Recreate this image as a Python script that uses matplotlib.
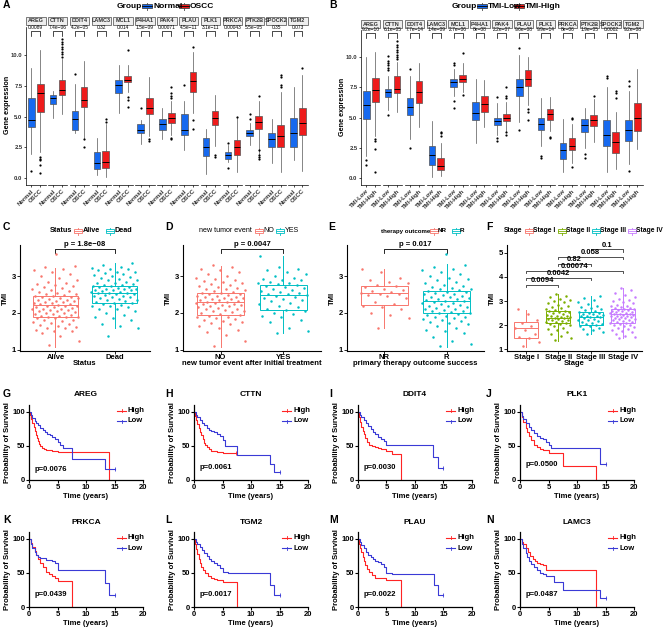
import numpy as np
import matplotlib
matplotlib.use('Agg')
import matplotlib.pyplot as plt
from matplotlib.patches import Rectangle
from matplotlib.lines import Line2D

plt.rcParams['font.family'] = ['Liberation Sans', 'DejaVu Sans']
plt.rcParams['font.weight'] = 'bold'
plt.rcParams['axes.labelweight'] = 'bold'

# ---------------- data ----------------
genes = ['AREG', 'CTTN', 'DDIT4', 'LAMC3', 'MCL1', 'P4HA1', 'PAK4', 'PLAU',
         'PLK1', 'PRKCA', 'PTK2B', 'SPOCK2', 'TGM2']

# box stats: (whislo, q1, median, q3, whishi)
a_normal = [(2.0, 4.2, 4.75, 6.5, 9.0), (4.9, 6.0, 6.55, 6.75, 7.1), (3.7, 3.9, 4.8, 5.5, 7.7),
            (0.3, 0.75, 1.2, 2.15, 3.3), (5.3, 6.9, 7.6, 8.0, 9.2), (2.8, 3.7, 3.9, 4.4, 4.7),
            (3.2, 3.9, 4.4, 4.8, 5.7), (2.3, 3.5, 3.9, 5.2, 6.3), (0.35, 1.8, 2.5, 3.3, 4.0),
            (1.3, 1.6, 1.9, 2.1, 2.7), (2.7, 3.4, 3.7, 3.9, 4.5), (1.2, 2.5, 3.2, 3.7, 4.8),
            (1.5, 2.5, 3.7, 4.9, 7.4)]
a_normal_out = [[0.6], [], [8.5], [], [], [5.7], [], [7.6], [], [2.9, 0.8], [4.8, 5.2], [], []]
a_oscc = [(2.1, 5.4, 6.9, 7.7, 10.4), (5.2, 6.8, 7.2, 8.0, 9.7), (3.3, 5.8, 6.4, 7.4, 9.5),
          (0.1, 0.85, 1.35, 2.25, 4.4), (7.0, 7.8, 8.0, 8.3, 9.2), (3.4, 5.2, 5.7, 6.5, 8.2),
          (3.5, 4.5, 4.9, 5.3, 6.3), (5.3, 7.0, 7.9, 8.6, 10.3), (2.6, 4.3, 4.9, 5.5, 6.8),
          (0.5, 1.9, 2.5, 3.1, 4.9), (2.0, 4.0, 4.6, 5.1, 6.3), (0.5, 2.5, 3.4, 4.3, 7.0),
          (0.6, 3.5, 4.5, 5.7, 8.4)]
a_oscc_out = [[1.7, 1.5, 1.1, 0.4, 1.6], [9.9, 10.1, 10.3, 10.5, 10.7, 10.9, 11.1, 11.3],
              [3.2, 2.5], [4.6, 4.8], [10.4, 6.6, 6.4, 5.8], [3.2, 3.0],
              [6.5, 6.7, 6.9, 7.4, 3.2, 3.3], [10.7, 4.7, 4.0], [1.9, 1.7], [5.0],
              [6.7, 2.3, 1.9, 1.7, 1.6], [8.2, 8.4, 7.4, 7.6], [9.0]]
a_pvals = ['0.0089', '7.4e\u221206', '4.2e\u221205', '0.32', '0.014', '1.5e\u221209', '0.00071',
           '4.5e\u221211', '3.1e\u221211', '0.00043', '5.5e\u221205', '0.35', '0.073']

b_low = [(1.8, 4.9, 6.0, 7.2, 10.0), (5.6, 6.7, 7.1, 7.4, 8.4), (3.2, 5.2, 5.9, 6.6, 8.4),
         (0.1, 1.1, 1.95, 2.7, 4.7), (6.8, 7.5, 7.9, 8.2, 9.0), (2.9, 4.8, 5.4, 6.3, 8.2),
         (3.6, 4.4, 4.7, 5.0, 6.2), (4.6, 6.8, 7.5, 8.2, 10.2), (2.7, 4.0, 4.5, 5.0, 6.6),
         (0.5, 1.6, 2.3, 2.9, 4.9), (2.5, 3.8, 4.4, 4.9, 5.8), (0.5, 2.7, 3.6, 4.8, 7.5),
         (1.2, 3.1, 4.0, 4.8, 7.2)]
b_low_out = [[1.5, 1.1], [8.9, 9.1, 9.3, 9.5, 9.7, 10.1, 5.2], [9.0, 2.5], [],
             [9.3, 9.5, 6.4, 5.8], [], [6.7, 3.1, 3.3], [10.7, 4.0], [1.8, 1.7], [],
             [2.0, 1.7], [8.3, 8.4], [0.6, 7.6, 8.0]]
b_high = [(3.5, 6.3, 7.3, 8.3, 10.4), (5.5, 7.0, 7.4, 8.4, 9.6), (4.2, 6.2, 7.1, 8.0, 9.5),
          (0.2, 0.7, 1.05, 1.7, 2.9), (7.1, 7.9, 8.2, 8.5, 9.5), (4.2, 5.5, 6.1, 6.8, 8.1),
          (3.9, 4.7, 5.0, 5.3, 6.3), (6.0, 7.6, 8.2, 8.9, 10.0), (3.9, 4.8, 5.3, 5.7, 6.7),
          (1.3, 2.3, 2.7, 3.3, 4.5), (3.0, 4.3, 4.8, 5.2, 6.5), (0.8, 2.1, 3.0, 3.8, 5.5),
          (2.4, 3.9, 5.0, 6.2, 9.0)]
b_high_out = [[3.2, 3.1, 2.4, 0.5], [9.8, 10.0, 10.2, 10.4, 10.6, 10.8, 11.0, 11.3], [],
              [3.5, 3.7, 3.8], [10.3, 6.9], [], [6.6, 6.8, 7.5, 3.6, 3.8], [5.7, 5.5, 4.8],
              [3.3, 3.4], [4.9, 5.0, 0.9], [6.8], [6.6, 7.0, 7.2], []]
b_pvals = ['9.2e\u221210', '6.1e\u221205', '7.7e\u221214', '1.4e\u221209', '2.7e\u221206', '8e\u221208',
           '2.2e\u221207', '9.6e\u221208', '9.9e\u221214', '8e\u221206', '1.9e\u221205', '0.0002',
           '9.2e\u221208']

# TMI panels: box stats and points
c_groups = ['Alive', 'Dead']
c_stats = [(1.09, 1.88, 2.22, 2.46, 3.23), (1.59, 2.27, 2.54, 2.74, 3.34)]
c_alive = [1.12, 1.25, 1.38, 1.45, 1.5, 1.52, 1.55, 1.58, 1.6, 1.62, 1.65, 1.68, 1.7, 1.72, 1.75,
           1.78, 1.8, 1.82, 1.85, 1.87, 1.88, 1.9, 1.9, 1.92, 1.93, 1.95, 1.96, 1.98, 2.0, 2.0,
           2.02, 2.04, 2.05, 2.07, 2.08, 2.1, 2.1, 2.12, 2.14, 2.15, 2.17, 2.18, 2.2, 2.2, 2.22,
           2.23, 2.25, 2.26, 2.28, 2.3, 2.3, 2.32, 2.33, 2.35, 2.36, 2.38, 2.4, 2.4, 2.42, 2.43,
           2.45, 2.46, 2.48, 2.5, 2.52, 2.55, 2.58, 2.6, 2.62, 2.65, 2.68, 2.7, 2.72, 2.75, 2.78,
           2.8, 2.85, 2.9, 2.95, 3.0, 3.05, 3.1, 3.15, 3.2, 3.25, 3.28, 3.6]
c_dead = [1.37, 1.6, 1.65, 1.7, 1.8, 1.85, 1.9, 1.95, 2.0, 2.05, 2.1, 2.12, 2.15, 2.18, 2.2,
          2.22, 2.25, 2.27, 2.28, 2.3, 2.32, 2.34, 2.36, 2.38, 2.4, 2.42, 2.44, 2.45, 2.47, 2.48,
          2.5, 2.52, 2.53, 2.54, 2.55, 2.56, 2.58, 2.6, 2.61, 2.62, 2.63, 2.64, 2.65, 2.66, 2.68,
          2.7, 2.71, 2.72, 2.74, 2.75, 2.77, 2.78, 2.8, 2.82, 2.85, 2.88, 2.9, 2.92, 2.95, 2.98,
          3.0, 3.02, 3.05, 3.08, 3.1, 3.12, 3.15, 3.18, 3.2, 3.22, 3.25, 3.3, 3.35]

d_groups = ['NO', 'YES']
d_stats = [(1.09, 1.95, 2.30, 2.53, 3.27), (1.45, 2.08, 2.48, 2.77, 3.54)]
d_no = [1.1, 1.25, 1.4, 1.48, 1.55, 1.6, 1.65, 1.7, 1.72, 1.75, 1.78, 1.8, 1.83, 1.85, 1.88, 1.9,
        1.93, 1.95, 1.97, 2.0, 2.02, 2.04, 2.06, 2.08, 2.1, 2.12, 2.14, 2.16, 2.18, 2.2, 2.21,
        2.22, 2.24, 2.25, 2.27, 2.28, 2.3, 2.31, 2.32, 2.34, 2.35, 2.37, 2.38, 2.4, 2.41, 2.42,
        2.44, 2.45, 2.47, 2.48, 2.5, 2.51, 2.53, 2.55, 2.57, 2.6, 2.62, 2.64, 2.66, 2.68, 2.7,
        2.72, 2.75, 2.78, 2.8, 2.83, 2.86, 2.9, 2.93, 2.96, 3.0, 3.05, 3.1, 3.15, 3.2, 3.25, 3.3]
d_yes = [1.45, 1.52, 1.6, 1.75, 1.82, 1.88, 1.92, 1.96, 2.0, 2.05, 2.08, 2.12, 2.15, 2.2, 2.25,
         2.28, 2.32, 2.35, 2.38, 2.4, 2.43, 2.46, 2.48, 2.5, 2.52, 2.55, 2.58, 2.6, 2.62, 2.65,
         2.68, 2.7, 2.72, 2.75, 2.78, 2.8, 2.82, 2.85, 2.88, 2.9, 2.93, 2.96, 3.0, 3.05, 3.1,
         3.15, 3.2, 3.25, 3.55]

e_groups = ['NR', 'R']
e_stats = [(1.58, 2.21, 2.54, 2.74, 3.2), (1.09, 2.0, 2.33, 2.59, 3.32)]
e_nr = [1.6, 1.85, 1.95, 2.0, 2.1, 2.15, 2.2, 2.25, 2.3, 2.4, 2.45, 2.48, 2.5, 2.52, 2.55,
        2.58, 2.6, 2.62, 2.65, 2.7, 2.72, 2.75, 2.8, 2.85, 2.9, 2.95, 3.1, 3.2]
e_r = [1.1, 1.15, 1.25, 1.35, 1.45, 1.5, 1.55, 1.6, 1.65, 1.7, 1.72, 1.75, 1.78, 1.8, 1.83,
       1.86, 1.88, 1.9, 1.92, 1.95, 1.97, 2.0, 2.0, 2.02, 2.04, 2.06, 2.08, 2.1, 2.12, 2.14,
       2.16, 2.18, 2.2, 2.22, 2.24, 2.26, 2.28, 2.3, 2.32, 2.33, 2.35, 2.37, 2.39, 2.4, 2.42,
       2.44, 2.46, 2.48, 2.5, 2.52, 2.54, 2.56, 2.58, 2.6, 2.62, 2.64, 2.66, 2.68, 2.7, 2.73,
       2.76, 2.8, 2.84, 2.88, 2.92, 2.96, 3.0, 3.05, 3.1, 3.15, 3.2, 3.25, 3.3, 3.6]

f_groups = ['Stage I', 'Stage II', 'Stage III', 'Stage IV']
f_stats = [(1.1, 1.48, 1.87, 2.15, 2.63), (1.36, 2.08, 2.28, 2.59, 3.29),
           (1.62, 2.01, 2.32, 2.56, 3.22), (1.46, 2.1, 2.46, 2.66, 3.55)]
f_s1 = [1.15, 1.3, 1.48, 1.52, 1.62, 1.78, 1.88, 1.95, 2.1, 2.2, 2.45, 2.65]
f_s2 = [1.38, 1.45, 1.55, 1.62, 1.7, 1.78, 1.85, 1.9, 1.95, 2.0, 2.03, 2.06, 2.1, 2.12, 2.15,
        2.18, 2.2, 2.22, 2.25, 2.27, 2.28, 2.3, 2.32, 2.34, 2.36, 2.38, 2.4, 2.43, 2.46, 2.5,
        2.53, 2.56, 2.58, 2.6, 2.62, 2.65, 2.7, 2.75, 2.8, 2.85, 2.9, 2.95, 3.0, 3.05, 3.1,
        3.15, 3.22, 3.3]
f_s3 = [1.65, 1.72, 1.8, 1.85, 1.9, 1.95, 1.98, 2.0, 2.03, 2.06, 2.1, 2.13, 2.16, 2.2, 2.23,
        2.26, 2.29, 2.32, 2.34, 2.36, 2.38, 2.4, 2.42, 2.45, 2.48, 2.5, 2.52, 2.55, 2.58, 2.62,
        2.66, 2.7, 2.75, 2.8, 2.88, 2.95, 3.05, 3.12, 3.22]
f_s4 = [1.45, 1.5, 1.55, 1.62, 1.7, 1.75, 1.8, 1.85, 1.9, 1.93, 1.96, 2.0, 2.02, 2.05, 2.08,
        2.1, 2.12, 2.15, 2.17, 2.2, 2.22, 2.24, 2.26, 2.28, 2.3, 2.32, 2.34, 2.36, 2.38, 2.4,
        2.42, 2.44, 2.46, 2.47, 2.48, 2.5, 2.52, 2.54, 2.56, 2.58, 2.6, 2.62, 2.64, 2.66, 2.68,
        2.7, 2.72, 2.75, 2.78, 2.8, 2.85, 2.9, 2.95, 3.0, 3.05, 3.1, 3.18, 3.25, 3.35, 3.45, 3.55]
# pairwise comparisons in F: (group a, group b, height, label)
f_pairs = [(1, 2, 3.66, '0.0094'), (1, 3, 3.97, '0.0042'), (1, 4, 4.24, '0.00074'),
           (2, 3, 4.53, '0.82'), (2, 4, 4.83, '0.058'), (3, 4, 5.14, '0.1')]

# survival curves (time in years, % survival)
km_titles = ['AREG', 'CTTN', 'DDIT4', 'PLK1', 'PRKCA', 'TGM2', 'PLAU', 'LAMC3']
km_p = ['p=0.0076', 'p=0.0061', 'p=0.0030', 'p=0.0500', 'p=0.0439', 'p=0.0017', 'p=0.0022', 'p=0.0487']
km_p_y = [16, 19, 19, 22, 18, 19, 18, 19]
km_high_t = [[0, 0.2, 0.4, 0.6, 0.8, 1.0, 1.2, 1.4, 1.6, 1.8, 2.0, 2.3, 2.6, 3.0, 3.5, 4.0, 4.5, 5.0, 14.0],
             [0, 0.2, 0.4, 0.6, 0.8, 1.0, 1.2, 1.5, 1.8, 2.0, 2.3, 2.6, 3.0, 3.5, 4.0, 5.0, 7.3],
             [0, 0.2, 0.4, 0.6, 0.8, 1.0, 1.3, 1.6, 2.0, 2.5, 3.0, 3.5, 4.0, 5.0, 6.0, 7.5],
             [0, 0.3, 0.6, 1.0, 1.3, 1.6, 2.0, 2.5, 3.0, 3.5, 4.0, 5.0, 7.5, 13.3],
             [0, 0.3, 0.6, 1.0, 1.3, 1.6, 2.0, 2.5, 3.0, 3.5, 4.0, 4.5, 5.0, 7.5],
             [0, 0.2, 0.4, 0.6, 0.8, 1.0, 1.3, 1.6, 2.0, 2.5, 3.0, 3.5, 4.0, 5.0, 7.5],
             [0, 0.2, 0.4, 0.6, 0.8, 1.0, 1.3, 1.6, 2.0, 2.5, 3.0, 4.0, 5.0, 7.5],
             [0, 0.3, 0.6, 1.0, 1.4, 1.8, 2.2, 2.6, 3.0, 3.5, 4.0, 4.5, 13.3]]
km_high_s = [[100, 95, 90, 84, 78, 72, 66, 61, 57, 53, 50, 47, 45, 44, 44, 43, 42, 41, 0],
             [100, 94, 88, 82, 76, 71, 66, 60, 55, 52, 48, 45, 43, 42, 41, 40, 40],
             [100, 92, 85, 78, 72, 67, 61, 56, 52, 50, 48, 47, 45, 42, 38, 0],
             [100, 93, 85, 77, 70, 64, 58, 52, 48, 46, 44, 40, 20, 0],
             [100, 94, 88, 82, 76, 70, 64, 58, 52, 48, 46, 42, 38, 0],
             [100, 93, 85, 78, 71, 65, 59, 54, 50, 46, 43, 41, 40, 37, 0],
             [100, 93, 86, 80, 74, 68, 61, 56, 52, 47, 43, 42, 40, 0],
             [100, 96, 92, 86, 80, 75, 71, 68, 65, 63, 61, 55, 0]]
km_low_t = [[0, 0.3, 0.6, 1.0, 1.3, 1.6, 2.0, 2.4, 2.8, 3.2, 3.6, 4.0, 4.5, 5.0, 5.5, 6.0, 7.5, 13.4, 15.0],
            [0, 0.3, 0.6, 1.0, 1.4, 1.8, 2.2, 2.6, 3.0, 3.5, 4.0, 4.5, 5.0, 5.5, 7.5, 13.3, 14.1, 15.0],
            [0, 0.3, 0.6, 1.0, 1.4, 1.8, 2.2, 2.6, 3.0, 3.5, 4.0, 4.5, 5.0, 13.2, 14.1, 15.0],
            [0, 0.3, 0.6, 1.0, 1.5, 2.0, 2.5, 3.0, 3.5, 4.0, 4.5, 5.0, 5.5, 14.1, 15.0],
            [0, 0.3, 0.6, 1.0, 1.3, 1.6, 2.0, 3.0, 4.0, 4.5, 5.0, 13.3, 14.1, 15.0],
            [0, 0.3, 0.6, 1.0, 1.4, 1.8, 2.2, 2.6, 3.0, 3.5, 4.0, 4.5, 5.0, 6.0, 13.3, 14.1, 15.0],
            [0, 0.3, 0.6, 1.0, 1.4, 1.8, 2.2, 2.6, 3.0, 3.5, 4.0, 4.5, 5.0, 6.0, 13.3, 14.1, 15.0],
            [0, 0.3, 0.6, 1.0, 1.3, 1.6, 2.0, 2.5, 3.0, 3.5, 4.0, 4.5, 5.0, 6.0, 7.5, 14.1, 15.0]]
km_low_s = [[100, 95, 91, 87, 83, 80, 77, 74, 71, 68, 66, 63, 60, 56, 52, 47, 31, 16, 16],
            [100, 96, 92, 88, 84, 80, 77, 74, 72, 70, 68, 65, 58, 50, 36, 23, 12, 12],
            [100, 96, 92, 88, 84, 79, 75, 71, 67, 63, 60, 57, 52, 34, 17, 17],
            [100, 94, 89, 84, 78, 73, 69, 65, 62, 60, 56, 52, 47, 23, 23],
            [100, 93, 86, 80, 76, 74, 72, 69, 67, 64, 54, 35, 17, 17],
            [100, 96, 92, 88, 83, 79, 75, 71, 68, 64, 61, 57, 52, 50, 33, 17, 17],
            [100, 95, 91, 86, 81, 77, 74, 71, 68, 66, 63, 58, 50, 48, 32, 17, 17],
            [100, 93, 86, 79, 73, 68, 63, 58, 54, 50, 48, 46, 45, 37, 25, 13, 13]]

# ---------------- figure ----------------
W, H = 669, 630
fig = plt.figure(figsize=(W / 100, H / 100), dpi=100)

BLUE = '#1669ef'
RED = '#ee1b1b'
HUE2 = ['#F8766D', '#00BFC4']
HUE4 = ['#F8766D', '#7CAE00', '#00BFC4', '#C77CFF']
KM_RED = '#ff2424'
KM_BLUE = '#3a3ad6'


def add_ax(x, y, w, h):
    return fig.add_axes([x / W, 1 - (y + h) / H, w / W, h / H])


def ftext(x, y, s, **kw):
    kw.setdefault('fontweight', 'bold')
    fig.text(x / W, 1 - y / H, s, **kw)


def key(x, y, color, fill=None, w=8, h=7):
    # small boxplot legend glyph, pixel coords (x left, y center)
    fc = fill if fill else 'white'
    ec = '#444444' if fill else color
    fig.add_artist(Rectangle((x / W, 1 - (y + h * 0.3) / H), w / W, h * 0.6 / H,
                             transform=fig.transFigure, fc=fc, ec=ec, lw=0.6))
    mc = 'black' if fill else color
    fig.add_artist(Line2D([x / W, (x + w) / W], [1 - y / H, 1 - y / H],
                          transform=fig.transFigure, color=mc, lw=0.6))
    for y0, y1 in [(y - h / 2, y - h * 0.3), (y + h * 0.3, y + h / 2)]:
        fig.add_artist(Line2D([(x + w / 2) / W] * 2, [1 - y0 / H, 1 - y1 / H],
                              transform=fig.transFigure, color=ec, lw=0.6))


def facet_panel(x0, top, normal, normal_out, tumor, tumor_out, pvals, xlabels, ylim):
    h = 185 - top
    for i, g in enumerate(genes):
        ax = add_ax(x0 + i * 21.85, top, 19.5, h)
        st = []
        for s, fl in [(normal[i], normal_out[i]), (tumor[i], tumor_out[i])]:
            st.append(dict(whislo=s[0], q1=s[1], med=s[2], q3=s[3], whishi=s[4], fliers=fl))
        bp = ax.bxp(st, positions=[1, 2], widths=0.75, patch_artist=True, showcaps=False,
                    boxprops=dict(edgecolor='#555555', linewidth=0.5),
                    whiskerprops=dict(color='#555555', linewidth=0.5),
                    medianprops=dict(color='black', linewidth=0.7),
                    flierprops=dict(marker='o', markersize=1.6, markerfacecolor='black',
                                    markeredgecolor='none'))
        bp['boxes'][0].set_facecolor(BLUE)
        bp['boxes'][1].set_facecolor(RED)
        ax.set_xlim(0.4, 2.6)
        ax.set_ylim(*ylim)
        for sp in ['top', 'right']:
            ax.spines[sp].set_visible(False)
        ax.spines['bottom'].set_linewidth(0.5)
        ax.spines['left'].set_linewidth(0.5)
        ax.patch.set_alpha(0)
        ax.set_xticks([1, 2])
        ax.set_xticklabels(xlabels, rotation=45, ha='right', rotation_mode='anchor',
                           fontsize=4.2, color='#333333')
        ax.tick_params(axis='both', length=1.5, width=0.5, pad=1)
        if i == 0:
            ax.set_yticks([0, 2.5, 5, 7.5, 10])
            ax.set_yticklabels(['0.0', '2.5', '5.0', '7.5', '10.0'], fontsize=4.2, color='#333333')
        else:
            ax.spines['left'].set_visible(False)
            ax.set_yticks([])
        # strip
        ax.add_patch(Rectangle((0, 1 + 2 / h), 1, 8 / h, transform=ax.transAxes, clip_on=False,
                               fc='#eeeeee', ec='#666666', lw=0.6))
        ax.text(0.5, 1 + 6 / h, g, transform=ax.transAxes, ha='center', va='center',
                fontsize=4.0, color='#333333')
        # bracket
        ax.plot([1, 1, 2, 2], [11.6, 11.95, 11.95, 11.6], color='black', lw=0.5, clip_on=False)
        ax.text(1.5, 12.02, pvals[i], ha='center', va='bottom', fontsize=3.5, fontweight='normal',
                clip_on=False)


def jitter(n):
    return ((np.arange(n) * 0.6180339887 + 0.37) % 1 - 0.5) * 0.8


def tmi_panel(x, w, groups, stats, values, colors, ylim, yticks, xlabel):
    ax = add_ax(x, 245, w, 106)
    n = len(groups)
    st = [dict(whislo=s[0], q1=s[1], med=s[2], q3=s[3], whishi=s[4], fliers=[]) for s in stats]
    bp = ax.bxp(st, positions=range(1, n + 1), widths=0.75, patch_artist=True, showcaps=False)
    for i, c in enumerate(colors):
        bp['boxes'][i].set(facecolor='white', edgecolor=c, linewidth=0.7)
        bp['medians'][i].set(color=c, linewidth=0.7)
        bp['whiskers'][2 * i].set(color=c, linewidth=0.7)
        bp['whiskers'][2 * i + 1].set(color=c, linewidth=0.7)
    for i, (v, c) in enumerate(zip(values, colors)):
        ax.scatter(i + 1 + jitter(len(v)), v, s=3.2, color=c, lw=0, zorder=3)
    ax.set_xlim(0.4, n + 0.6)
    ax.set_ylim(*ylim)
    for sp in ['top', 'right']:
        ax.spines[sp].set_visible(False)
    ax.spines['bottom'].set_linewidth(0.8)
    ax.spines['left'].set_linewidth(0.8)
    ax.set_yticks(yticks)
    ax.set_xticks(range(1, n + 1))
    ax.set_xticklabels(groups, fontsize=5.5)
    ax.tick_params(axis='y', labelsize=5.5, length=2, width=0.6, pad=1)
    ax.tick_params(axis='x', length=2, width=0.6, pad=0.5)
    ax.set_ylabel('TMI', fontsize=5.5, labelpad=2)
    ax.set_xlabel(xlabel, fontsize=5.5, labelpad=-1)
    return ax


def km_panel(x, top, i):
    ax = add_ax(x, top, 114, 75)
    ax.step(km_high_t[i], km_high_s[i], where='post', color=KM_RED, lw=0.8)
    ax.step(km_low_t[i], km_low_s[i], where='post', color=KM_BLUE, lw=0.8)
    ax.plot(km_high_t[i][-1], km_high_s[i][-1], marker='|', ms=2.5, color=KM_RED, mew=0.6)
    ax.plot(km_low_t[i][-1], km_low_s[i][-1], marker='|', ms=2.5, color=KM_BLUE, mew=0.6)
    ax.set_xlim(0, 20)
    ax.set_ylim(0, 110)
    ax.set_xticks([0, 5, 10, 15, 20])
    ax.set_yticks([0, 50, 100])
    for sp in ['top', 'right']:
        ax.spines[sp].set_visible(False)
    ax.spines['bottom'].set_linewidth(0.9)
    ax.spines['left'].set_linewidth(0.9)
    ax.tick_params(labelsize=5.5, length=2, width=0.8, pad=1)
    ax.set_xlabel('Time (years)', fontsize=5.5, labelpad=1.5)
    ax.set_ylabel('Probability of Survival', fontsize=5.5, labelpad=1)
    ax.text(1.0, km_p_y[i], km_p[i], fontsize=5.5, fontweight='bold', va='center')
    ftext(x + 57, top - 10, km_titles[i], ha='center', va='center', fontsize=6)
    for yy, lab, c in [(top + 5.5, 'High', KM_RED), (top + 16, 'Low', KM_BLUE)]:
        fig.add_artist(Line2D([(x + 88) / W, (x + 97) / W], [1 - yy / H] * 2,
                              transform=fig.transFigure, color=c, lw=0.8))
        fig.add_artist(Line2D([(x + 92.5) / W] * 2, [1 - (yy - 1.5) / H, 1 - (yy + 1.5) / H],
                              transform=fig.transFigure, color=c, lw=0.6))
        ftext(x + 99, yy, lab, va='center', fontsize=5.5)
    return ax


# ---------- A / B ----------
facet_panel(26, 27, a_normal, a_normal_out, a_oscc, a_oscc_out, a_pvals, ['Normal', 'OSCC'],
            (-0.55, 12.3))
facet_panel(361, 30, b_low, b_low_out, b_high, b_high_out, b_pvals, ['TMI-Low', 'TMI-High'],
            (-0.55, 12.22))
ftext(8, 105, 'Gene expression', rotation=90, ha='center', va='center', fontsize=5.2)
ftext(343, 107, 'Gene expression', rotation=90, ha='center', va='center', fontsize=5.2)

ftext(117, 6, 'Group', va='center', fontsize=6)
key(142, 6, BLUE, fill=BLUE, w=10)
ftext(153, 6, 'Normal', va='center', fontsize=6)
key(179, 6, RED, fill=RED, w=10)
ftext(190, 6, 'OSCC', va='center', fontsize=6)

ftext(452, 6, 'Group', va='center', fontsize=6)
key(477, 6, BLUE, fill=BLUE, w=10)
ftext(488, 6, 'TMI-Low', va='center', fontsize=6)
key(514, 6, RED, fill=RED, w=10)
ftext(525, 6, 'TMI-High', va='center', fontsize=6)

# ---------- C - F ----------
ax_c = tmi_panel(20, 130, c_groups, c_stats, [c_alive, c_dead], HUE2, (0.97, 3.84), [1, 2, 3], 'Status')
ax_d = tmi_panel(183, 138, d_groups, d_stats, [d_no, d_yes], HUE2, (0.97, 3.84), [1, 2, 3],
                 'new tumor event after initial treatment')
ax_e = tmi_panel(347, 137, e_groups, e_stats, [e_nr, e_r], HUE2, (0.97, 3.84), [1, 2, 3],
                 'primary therapy outcome success')
ax_f = tmi_panel(507, 135, f_groups, f_stats, [f_s1, f_s2, f_s3, f_s4], HUE4, (0.93, 5.32),
                 [1, 2, 3, 4, 5], 'Stage')

for ax, p in [(ax_c, 'p = 1.8e\u221208'), (ax_d, 'p = 0.0047'), (ax_e, 'p = 0.017')]:
    ax.plot([1, 1, 2, 2], [3.63, 3.73, 3.73, 3.63], color='black', lw=0.6, clip_on=False)
    ax.text(1.5, 3.76, p, ha='center', va='bottom', fontsize=5.5, clip_on=False)
for a, b, yv, lab in f_pairs:
    ax_f.plot([a, a, b, b], [yv - 0.1, yv, yv, yv - 0.1], color='#333333', lw=0.6, clip_on=False)
    ax_f.text((a + b) / 2, yv + 0.03, lab, ha='center', va='bottom', fontsize=5.5, clip_on=False)

# legends C-F
ly = 231
ftext(50, ly, 'Status', va='center', fontsize=5.2)
key(74, ly, HUE2[0]); ftext(83, ly, 'Alive', va='center', fontsize=5.2)
key(106, ly, HUE2[1]); ftext(115, ly, 'Dead', va='center', fontsize=5.2)
ftext(199, ly, 'new tumor event', va='center', fontsize=5.1, fontweight='normal')
key(255, ly, HUE2[0]); ftext(263, ly, 'NO', va='center', fontsize=5.1, fontweight='normal')
key(276, ly, HUE2[1]); ftext(285, ly, 'YES', va='center', fontsize=5.1, fontweight='normal')
ftext(381, ly, 'therapy outcome', va='center', fontsize=4.4)
key(430, ly, HUE2[0]); ftext(438, ly, 'NR', va='center', fontsize=4.6)
key(452, ly, HUE2[1]); ftext(460, ly, 'R', va='center', fontsize=4.6)
ftext(504, ly, 'Stage', va='center', fontsize=4.9)
for kx, tx, c, lab in [(525, 533, HUE4[0], 'Stage I'), (558, 566, HUE4[1], 'Stage II'),
                       (592, 600, HUE4[2], 'Stage III'), (628, 636, HUE4[3], 'Stage IV')]:
    key(kx, ly, c)
    ftext(tx, ly, lab, va='center', fontsize=4.9)

# ---------- G - N ----------
km_x = [29, 194, 358, 520]
for i in range(8):
    km_panel(km_x[i % 4], 405 if i < 4 else 532, i)

# panel letters
for lab, x, y in [('A', 3, 5), ('B', 329, 5), ('C', 3, 227), ('D', 165, 227), ('E', 328, 227),
                  ('F', 486, 227), ('G', 3, 394), ('H', 165, 394), ('I', 329, 394), ('J', 486, 394),
                  ('K', 3, 520), ('L', 165, 520), ('M', 329, 520), ('N', 486, 520)]:
    ftext(x, y, lab, va='center', fontsize=7.5)

fig.savefig('out.png', dpi=100)
